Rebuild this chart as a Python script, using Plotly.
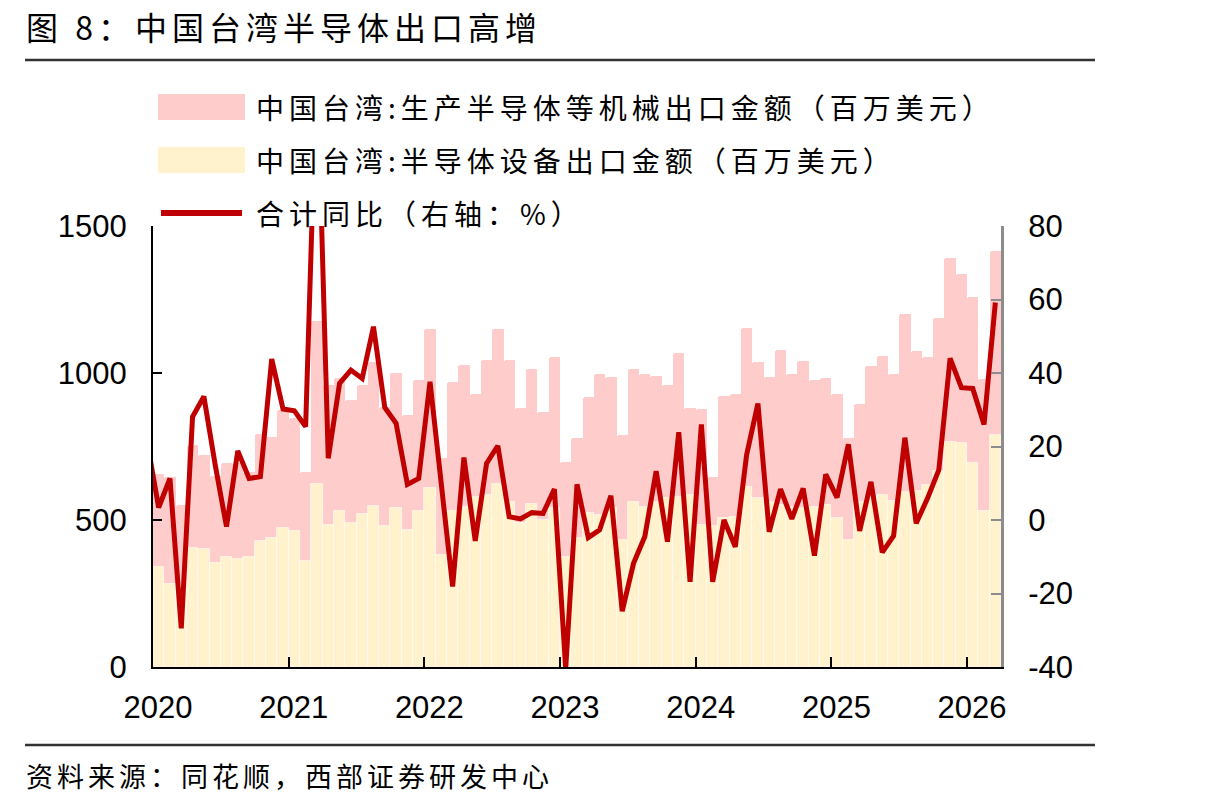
import plotly.graph_objects as go

# ---------------- data ----------------
year_labels = ["2020", "2021", "2022", "2023", "2024", "2025", "2026"]
n_months = 75  # 2020-01 .. 2026-03

# 中国台湾:生产半导体等机械出口金额（百万美元）
machinery = [655, 645, 551, 755, 721, 648, 693, 693, 664, 791, 783, 874,
             846, 662, 1177, 960, 982, 908, 959, 1038, 885, 1001, 857, 976,
             1150, 712, 970, 1028, 930, 1044, 1149, 1044, 881, 1014, 868, 1055,
             698, 779, 920, 996, 986, 789, 1015, 997, 990, 960, 1067, 880,
             876, 646, 922, 929, 1154, 1037, 988, 1078, 997, 1040, 975, 984,
             930, 778, 894, 1024, 1058, 997, 1201, 1074, 1055, 1187, 1392, 1338,
             1258, 979, 1416]

# 中国台湾:半导体设备出口金额（百万美元）
equipment = [341, 281, 280, 404, 400, 353, 375, 367, 375, 429, 440, 472,
             463, 360, 621, 483, 530, 490, 520, 547, 478, 540, 466, 530,
             608, 381, 530, 545, 579, 585, 621, 560, 490, 555, 500, 540,
             375, 438, 525, 517, 540, 432, 560, 545, 560, 574, 579, 585,
             483, 480, 506, 510, 613, 575, 560, 550, 545, 540, 543, 551,
             506, 432, 560, 579, 585, 565, 595, 598, 620, 667, 765, 761,
             693, 532, 789]

# 合计同比（%），first value is 2019-12 (outside the visible range)
yoy_2019_12 = 21.0
yoy = [3.4, 11.3, -29.5, 28.1, 33.6, 15.0, -1.8, 18.8, 11.3, 11.8, 43.8, 30.2,
       29.7, 25.4, 125.0, 16.8, 37.2, 40.8, 38.5, 52.6, 30.6, 26.3, 9.7, 11.3,
       37.6, 9.7, -18.1, 17.0, -5.7, 15.4, 20.2, 0.9, 0.3, 2.0, 1.8, 8.4,
       -40.4, 9.7, -4.8, -2.7, 6.6, -24.8, -11.8, -4.5, 13.3, -5.9, 23.9, -16.8,
       26.0, -16.8, 0.0, -7.3, 17.7, 31.7, -3.2, 8.4, 0.3, 8.6, -9.7, 12.4,
       6.1, 20.6, -3.0, 10.4, -8.8, -4.3, 22.4, -0.9, 5.9, 13.6, 44.0, 36.0,
       35.8, 26.0, 59.2]

left_ticks = [0, 500, 1000, 1500]
right_ticks = [-40, -20, 0, 20, 40, 60, 80]
right_ticktext = ["-40", "-20", "0", "20", "40", "60", "80"]

name_mach = "中国台湾:生产半导体等机械出口金额（百万美元）"
name_equip = "中国台湾:半导体设备出口金额（百万美元）"
name_yoy = "合计同比（右轴：%）"
title_text = "图 8：中国台湾半导体出口高增"
source_text = "资料来源：同花顺，西部证券研发中心"

# ---------------- styles ----------------
PINK = "rgb(255,204,204)"
YELLOW = "rgb(255,242,204)"
RED = "rgb(192,0,0)"
CJK = "Noto Sans CJK SC"
NUM = "Liberation Sans, Arial"

W, H = 1215, 807
L, R, T, B = 153, 214, 226, 140
PW, PH = W - L - R, H - T - B

def px_x(px):
    return (px - L) / PW

def px_y(py):
    return (H - B - py) / PH

def spaced(s, sp):
    return f'<span style="letter-spacing:{sp}px">{s}</span>'

x_idx = list(range(n_months))

fig = go.Figure()
fig.add_trace(go.Bar(x=x_idx, y=machinery, name=name_mach, marker_color=PINK,
                     marker_line_width=0, width=1.0, showlegend=False))
fig.add_trace(go.Bar(x=x_idx, y=equipment, name=name_equip, marker_color=YELLOW,
                     marker_line=dict(width=0.8, color="rgba(255,255,255,0.75)"),
                     width=1.0, showlegend=False))
fig.add_trace(go.Scatter(x=[-1] + x_idx, y=[yoy_2019_12] + yoy, name=name_yoy,
                         mode="lines", line=dict(color=RED, width=5),
                         yaxis="y2", showlegend=False))

tickvals_x = [-0.5 + 12 * k for k in range(len(year_labels))]

fig.update_layout(
    width=W, height=H,
    margin=dict(l=L, r=R, t=T, b=B, pad=0),
    paper_bgcolor="white", plot_bgcolor="white",
    barmode="overlay", bargap=0, barcornerradius=2,
    xaxis=dict(range=[-0.5, n_months - 0.5], tickvals=tickvals_x, ticktext=year_labels,
               ticks="inside", ticklen=10, tickwidth=2, tickcolor="black",
               showline=True, linecolor="black", linewidth=2,
               showgrid=False, zeroline=False,
               tickfont=dict(family=NUM, size=31, color="black"),
               ticklabelshift=5, ticklabelstandoff=12),
    yaxis=dict(range=[0, 1500], tickvals=left_ticks,
               ticks="inside", ticklen=9, tickwidth=2, tickcolor="black",
               showline=True, linecolor="black", linewidth=2,
               showgrid=False, zeroline=False,
               tickfont=dict(family=NUM, size=31, color="black"),
               ticklabelstandoff=18),
    yaxis2=dict(range=[-40, 80], tickvals=right_ticks, ticktext=right_ticktext,
                overlaying="y", side="right",
                ticks="inside", ticklen=10, tickwidth=2, tickcolor="#8c8c8c",
                showline=True, linecolor="#8c8c8c", linewidth=3,
                showgrid=False, zeroline=False,
                tickfont=dict(family=NUM, size=31, color="black"),
                ticklabelstandoff=18),
)

shapes = []
annotations = []
# horizontal rules
for py in (60, 745):
    shapes.append(dict(type="line", xref="paper", yref="paper",
                       x0=px_x(25), x1=px_x(1095), y0=px_y(py), y1=px_y(py),
                       line=dict(color="#333333", width=2.5)))

# manual legend
legend_rows = [(107, name_mach, "rect", PINK),
               (160, name_equip, "rect", YELLOW),
               (213, name_yoy, "line", RED)]
for py, label, kind, col in legend_rows:
    if kind == "rect":
        shapes.append(dict(type="rect", xref="paper", yref="paper",
                           x0=px_x(158), x1=px_x(245), y0=px_y(py + 13), y1=px_y(py - 13),
                           fillcolor=col, line=dict(width=0)))
    else:
        shapes.append(dict(type="line", xref="paper", yref="paper",
                           x0=px_x(161), x1=px_x(242), y0=px_y(py), y1=px_y(py),
                           line=dict(color=col, width=6)))
    annotations.append(dict(text=spaced(label, 5), xref="paper", yref="paper",
                            x=px_x(254), y=px_y(py), xanchor="left", yanchor="middle",
                            showarrow=False,
                            font=dict(family=CJK, size=28, color="black")))

annotations.append(dict(text=spaced(title_text, 5), xref="paper", yref="paper",
                        x=px_x(24), y=px_y(26), xanchor="left", yanchor="middle",
                        showarrow=False, font=dict(family=CJK, size=32, color="black")))
annotations.append(dict(text=spaced(source_text, 4), xref="paper", yref="paper",
                        x=px_x(24), y=px_y(775), xanchor="left", yanchor="middle",
                        showarrow=False, font=dict(family=CJK, size=27, color="black")))

fig.update_layout(shapes=shapes, annotations=annotations)
fig.write_html("out.html")
